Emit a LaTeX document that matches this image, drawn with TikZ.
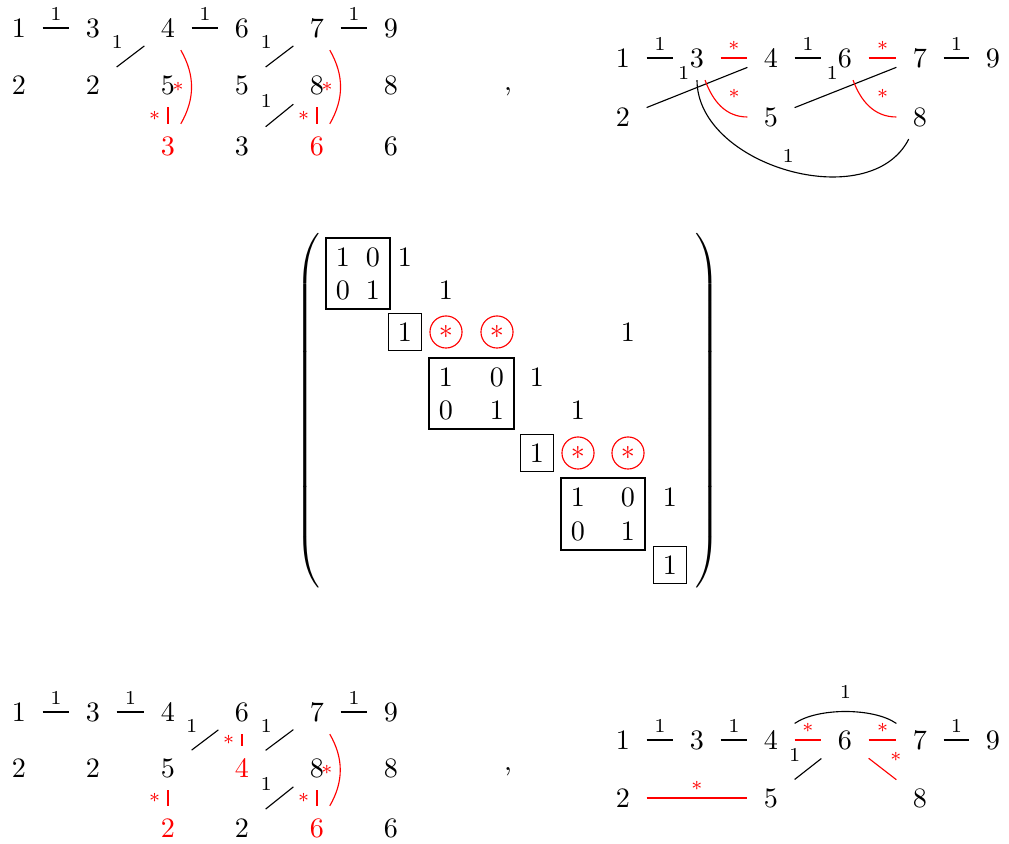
\documentclass[tikz,border=0pt]{standalone}
\usepackage{amsmath}
\usepackage{amssymb}
\usepackage{tikz}
\usetikzlibrary{fit}
\usepackage{xcolor}

\begin{document}
\begin{tikzpicture}[x=0.0125cm,y=0.0125cm,
	vtx/.style={inner xsep=5.7pt,inner ysep=4.45pt},
	lbl/.style={font=\scriptsize,inner sep=2.5pt},
	cst/.style={circle,draw=red,text=red,inner sep=0pt,minimum size=11.4pt},
	blk/.style={draw,inner sep=0pt}]
	\useasboundingbox (0,0) rectangle (1009,844);
	\node[vtx] (TLOne) at (19,816) {$1$};
	\node[vtx] (TLThree) at (93,816) {$3$};
	\node[vtx] (TLFour) at (168,816) {$4$};
	\node[vtx] (TLSix) at (242,816) {$6$};
	\node[vtx] (TLSeven) at (317,816) {$7$};
	\node[vtx] (TLNine) at (391,816) {$9$};
	\node[vtx] (TLTwo) at (19,759) {$2$};
	\node[vtx] (TLTwoB) at (93,759) {$2$};
	\node[vtx] (TLFive) at (168,759) {$5$};
	\node[vtx] (TLFiveB) at (242,759) {$5$};
	\node[vtx] (TLEight) at (317,759) {$8$};
	\node[vtx] (TLEightB) at (391,759) {$8$};
	\node[vtx,red] (TLThreeRed) at (168,698) {$3$};
	\node[vtx] (TLThreeB) at (242,698) {$3$};
	\node[vtx,red] (TLSixRed) at (317,698) {$6$};
	\node[vtx] (TLSixB) at (391,698) {$6$};
	\draw (TLOne) -- node[lbl,above] {$1$} (TLThree);
	\draw (TLFour) -- node[lbl,above] {$1$} (TLSix);
	\draw (TLSeven) -- node[lbl,above] {$1$} (TLNine);
	\draw (TLTwoB) -- node[lbl,above left] {$1$} (TLFour);
	\draw (TLFiveB) -- node[lbl,above left] {$1$} (TLSeven);
	\draw (TLThreeB) -- node[lbl,above left] {$1$} (TLEight);
	\draw[red] (TLFive) -- node[lbl,left] {$*$} (TLThreeRed);
	\draw[red] (TLFour) to[bend left=30] node[lbl,left] {$*$} (TLThreeRed);
	\draw[red] (TLEight) -- node[lbl,left] {$*$} (TLSixRed);
	\draw[red] (TLSeven) to[bend left=30] node[lbl,left] {$*$} (TLSixRed);

	\node (CommaTop) at (508,752) {,};

	\node[vtx] (TROne) at (623,786) {$1$};
	\node[vtx] (TRThree) at (697,786) {$3$};
	\node[vtx] (TRFour) at (771,786) {$4$};
	\node[vtx] (TRSix) at (845,786) {$6$};
	\node[vtx] (TRSeven) at (920,786) {$7$};
	\node[vtx] (TRNine) at (993,786) {$9$};
	\node[vtx] (TRTwo) at (623,727) {$2$};
	\node[vtx] (TRFive) at (771,727) {$5$};
	\node[vtx] (TREight) at (920,727) {$8$};
	\draw (TROne) -- node[lbl,above] {$1$} (TRThree);
	\draw[red] (TRThree) -- node[lbl,above] {$*$} (TRFour);
	\draw (TRFour) -- node[lbl,above] {$1$} (TRSix);
	\draw[red] (TRSix) -- node[lbl,above] {$*$} (TRSeven);
	\draw (TRSeven) -- node[lbl,above] {$1$} (TRNine);
	\draw (TRTwo) -- node[lbl,above left] {$1$} (TRFour);
	\draw (TRFive) -- node[lbl,above left] {$1$} (TRSeven);
	\draw[red] (TRThree) to[out=-70,in=180] node[lbl,above right] {$*$} (TRFive);
	\draw[red] (TRSix) to[out=-70,in=180] node[lbl,above right] {$*$} (TREight);
	\draw (TRThree) to[out=-90,in=-117] node[lbl,above] {$1$} (TREight);

	\node (LParen) at (309,433) {$\left(\vcenter to 127pt{\vfil}\right.$};
	\node (RParen) at (706,433) {$\left.\vcenter to 127pt{\vfil}\right)$};
	\node (m-1-1) at (343,587) {$1$};
	\node (m-1-2) at (373,587) {$0$};
	\node (m-1-3) at (405,587) {$1$};
	\node (m-2-1) at (343,554) {$0$};
	\node (m-2-2) at (373,554) {$1$};
	\node (m-2-4) at (446,554) {$1$};
	\node[draw] (m-3-3) at (405,512) {$1$};
	\node[cst] (m-3-4) at (446,512) {$*$};
	\node[cst] (m-3-5) at (497,512) {$*$};
	\node (m-3-8) at (628,512) {$1$};
	\node (m-4-4) at (446,467) {$1$};
	\node (m-4-5) at (497,467) {$0$};
	\node (m-4-6) at (537,467) {$1$};
	\node (m-5-4) at (446,434) {$0$};
	\node (m-5-5) at (497,434) {$1$};
	\node (m-5-7) at (578,434) {$1$};
	\node[draw] (m-6-6) at (537,391) {$1$};
	\node[cst] (m-6-7) at (578,391) {$*$};
	\node[cst] (m-6-8) at (628,391) {$*$};
	\node (m-7-7) at (578,347) {$1$};
	\node (m-7-8) at (628,347) {$0$};
	\node (m-7-9) at (670,347) {$1$};
	\node (m-8-7) at (578,313) {$0$};
	\node (m-8-8) at (628,313) {$1$};
	\node[draw] (m-9-9) at (670,279) {$1$};
	\node[blk,fit=(m-1-1)(m-2-2)] (BoxA) {};
	\node[blk,fit=(m-4-4)(m-5-5)] (BoxB) {};
	\node[blk,fit=(m-7-7)(m-8-8)] (BoxC) {};

	\node[vtx] (BLOne) at (19,132) {$1$};
	\node[vtx] (BLThree) at (93,132) {$3$};
	\node[vtx] (BLFour) at (168,132) {$4$};
	\node[vtx] (BLSix) at (242,132) {$6$};
	\node[vtx] (BLSeven) at (317,132) {$7$};
	\node[vtx] (BLNine) at (391,132) {$9$};
	\node[vtx] (BLTwo) at (19,76) {$2$};
	\node[vtx] (BLTwoB) at (93,76) {$2$};
	\node[vtx] (BLFive) at (168,76) {$5$};
	\node[vtx,red] (BLFourRed) at (242,76) {$4$};
	\node[vtx] (BLEight) at (317,76) {$8$};
	\node[vtx] (BLEightB) at (391,76) {$8$};
	\node[vtx,red] (BLTwoRed) at (168,16) {$2$};
	\node[vtx] (BLTwoC) at (242,16) {$2$};
	\node[vtx,red] (BLSixRed) at (317,16) {$6$};
	\node[vtx] (BLSixB) at (391,16) {$6$};
	\draw (BLOne) -- node[lbl,above] {$1$} (BLThree);
	\draw (BLThree) -- node[lbl,above] {$1$} (BLFour);
	\draw (BLSeven) -- node[lbl,above] {$1$} (BLNine);
	\draw (BLFive) -- node[lbl,above left] {$1$} (BLSix);
	\draw (BLFourRed) -- node[lbl,above left] {$1$} (BLSeven);
	\draw (BLTwoC) -- node[lbl,above left] {$1$} (BLEight);
	\draw[red] (BLSix) -- node[lbl,left] {$*$} (BLFourRed);
	\draw[red] (BLFive) -- node[lbl,left] {$*$} (BLTwoRed);
	\draw[red] (BLEight) -- node[lbl,left] {$*$} (BLSixRed);
	\draw[red] (BLSeven) to[bend left=30] node[lbl,left] {$*$} (BLSixRed);

	\node (CommaBottom) at (508,72) {,};

	\node[vtx] (BROne) at (623,104) {$1$};
	\node[vtx] (BRThree) at (697,104) {$3$};
	\node[vtx] (BRFour) at (771,104) {$4$};
	\node[vtx] (BRSix) at (845,104) {$6$};
	\node[vtx] (BRSeven) at (920,104) {$7$};
	\node[vtx] (BRNine) at (993,104) {$9$};
	\node[vtx] (BRTwo) at (623,46) {$2$};
	\node[vtx] (BRFive) at (771,46) {$5$};
	\node[vtx] (BREight) at (920,46) {$8$};
	\draw (BROne) -- node[lbl,above] {$1$} (BRThree);
	\draw (BRThree) -- node[lbl,above] {$1$} (BRFour);
	\draw[red] (BRFour) -- node[lbl,above] {$*$} (BRSix);
	\draw[red] (BRSix) -- node[lbl,above] {$*$} (BRSeven);
	\draw (BRSeven) -- node[lbl,above] {$1$} (BRNine);
	\draw (BRFour) to[out=35,in=145,looseness=0.7] node[lbl,above=2pt] {$1$} (BRSeven);
	\draw (BRFive) -- node[lbl,above left] {$1$} (BRSix);
	\draw[red] (BRSix) -- node[lbl,above right] {$*$} (BREight);
	\draw[red] (BRTwo) -- node[lbl,above] {$*$} (BRFive);
\end{tikzpicture}
\end{document}
